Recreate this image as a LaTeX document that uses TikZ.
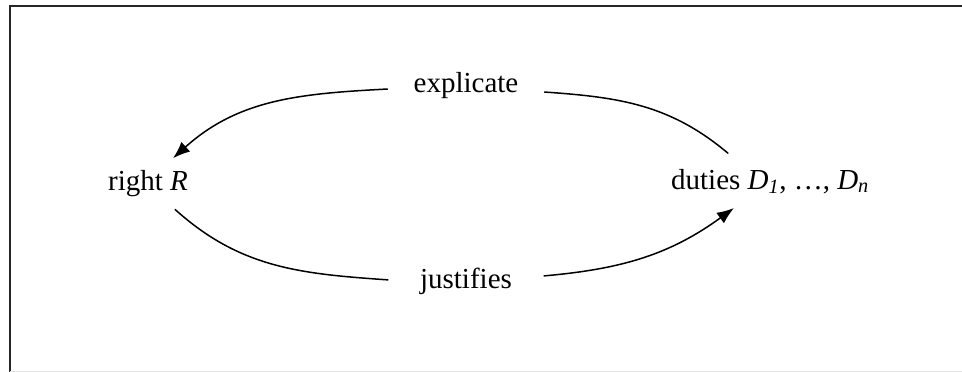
\documentclass[tikz,border=0pt]{standalone}
\usepackage{fontspec}
\setmainfont{Liberation Serif}
\usetikzlibrary{arrows.meta}
\begin{document}
\begin{tikzpicture}[x=1pt,y=-1pt,
  lbl/.style={inner sep=0pt, font=\fontsize{29}{35}\selectfont},
  conn/.style={line width=1.5pt, line cap=round},
  arr/.style={conn, -{Latex[length=17pt,width=13pt]}}]
\useasboundingbox (0,0) rectangle (962,372);
% frame
\draw[line width=2pt, black!85] (9.7,372) -- (9.7,6.3) -- (964,6.3);
\draw[line width=1pt, black!10] (9.7,371.5) -- (964,371.5);
% nodes
\node[lbl, anchor=base] (rr) at (148,190) {right \textit{R}};
\node[lbl, anchor=base] (du) at (770,189) {duties \textit{D}\textsubscript{\textit{1}}, …, \textit{D}\textsubscript{\textit{n}}};
\node[lbl, anchor=base, inner xsep=26pt] (ex) at (466,92) {explicate};
\node[lbl, anchor=base, inner xsep=32pt] (ju) at (466,288) {justifies};
% connectors
\draw[arr] ([yshift=-4pt]ex.west) to[out=183, in=42] ([xshift=-15pt,yshift=11.5pt]rr.north east);
\draw[conn] ([yshift=-7pt]ex.east) to[out=-4, in=140] ([xshift=57pt,yshift=15.5pt]du.north west);
\draw[conn] ([xshift=-13pt,yshift=-13pt]rr.south east) to[out=-42, in=176] ([yshift=1pt]ju.west);
\draw[arr] ([yshift=5pt]ju.east) to[out=5, in=-144] ([xshift=63pt,yshift=-14pt]du.south west);
\end{tikzpicture}
\end{document}
